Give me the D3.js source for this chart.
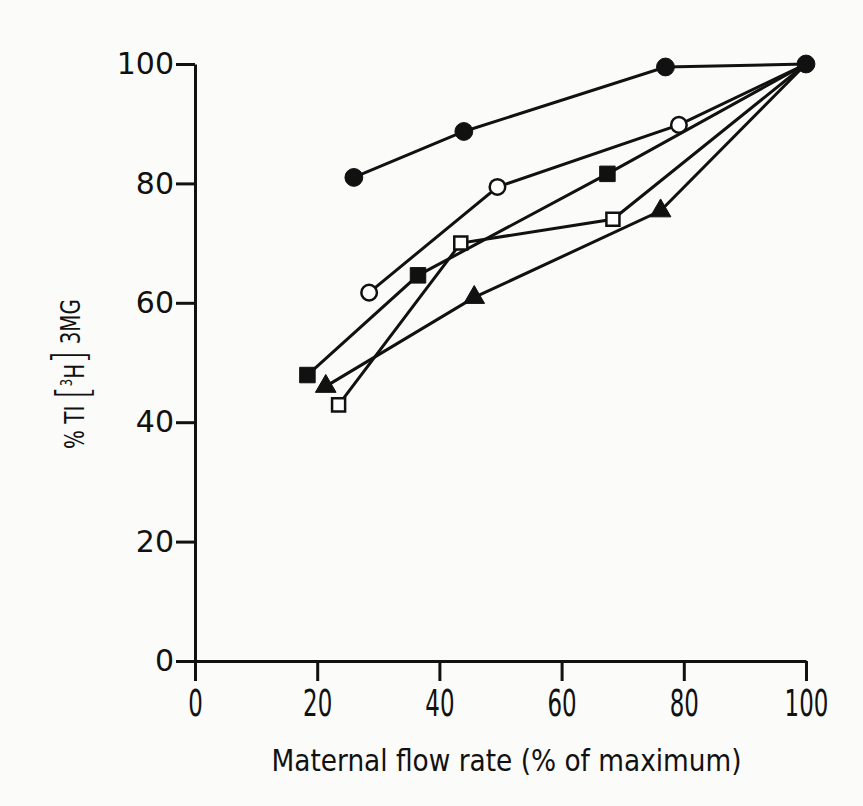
<!DOCTYPE html>
<html>
<head>
<meta charset="utf-8">
<script src="https://cdn.jsdelivr.net/npm/d3@7"></script>
<style>
    body { margin: 0; background: #fbfbfa; }
    svg { display: block; }
</style>
</head>
<body>
<div id="chart"></div>
<script>
const width = 863;
const height = 806;
const margin = { top: 64, right: 57, bottom: 145, left: 195 };

// 目盛り
const xTicks = [0, 20, 40, 60, 80, 100];
const yTicks = [0, 20, 40, 60, 80, 100];

// 各系列 (x: 母体血流量 %, y: %TI)
const filledCircleX = [26, 44, 77, 100];
const filledCircleY = [81, 88.7, 99.5, 100];

const openCircleX = [28.5, 49.5, 79.2, 100];
const openCircleY = [61.7, 79.4, 89.8, 100];

const filledSquareX = [18.4, 36.5, 67.5, 100];
const filledSquareY = [47.9, 64.6, 81.6, 100];

const openSquareX = [23.5, 43.5, 68.4, 100];
const openSquareY = [42.9, 70.0, 74.0, 100];

const triangleX = [21.4, 45.7, 76.2, 100];
const triangleY = [46.0, 60.9, 75.4, 100];

// 描画順: 黒丸を最後に
const series = [
    { name: "openCircle", xs: openCircleX, ys: openCircleY, shape: "circle", filled: false },
    { name: "filledSquare", xs: filledSquareX, ys: filledSquareY, shape: "square", filled: true },
    { name: "openSquare", xs: openSquareX, ys: openSquareY, shape: "square", filled: false },
    { name: "triangle", xs: triangleX, ys: triangleY, shape: "triangle", filled: true },
    { name: "filledCircle", xs: filledCircleX, ys: filledCircleY, shape: "circle", filled: true }
];

const svg = d3.select("#chart")
    .append("svg")
    .attr("width", width)
    .attr("height", height);

const x = d3.scaleLinear()
    .domain([0, 100])
    .range([margin.left, width - margin.right]);

const y = d3.scaleLinear()
    .domain([0, 100])
    .range([height - margin.bottom, margin.top]);

// 軸
const xAxis = svg.append("g")
    .attr("transform", `translate(0,${y(0)})`)
    .call(d3.axisBottom(x).tickValues(xTicks).tickSize(20).tickSizeOuter(0).tickPadding(9));

xAxis.selectAll("text")
    .attr("font-family", "DejaVu Sans, sans-serif")
    .attr("font-size", 37)
    .attr("fill", "#111")
    .attr("transform", "scale(0.62,1)");

const yAxis = svg.append("g")
    .attr("transform", `translate(${x(0)},0)`)
    .call(d3.axisLeft(y).tickValues(yTicks).tickSize(19).tickSizeOuter(0).tickPadding(2));

yAxis.selectAll("text")
    .attr("font-family", "DejaVu Sans, sans-serif")
    .attr("font-size", 30)
    .attr("fill", "#111");

svg.selectAll(".domain, .tick line")
    .attr("stroke", "#111")
    .attr("stroke-width", 3);

// 軸ラベル
svg.append("text")
    .attr("x", (x(0) + x(100)) / 2 + 6)
    .attr("y", 771)
    .attr("text-anchor", "middle")
    .attr("font-family", "DejaVu Sans, sans-serif")
    .attr("font-size", 31)
    .attr("fill", "#111")
    .attr("textLength", 470)
    .attr("lengthAdjust", "spacingAndGlyphs")
    .text("Maternal flow rate (% of maximum)");

const yLabel = svg.append("text")
    .attr("transform", "translate(84,374) rotate(-90)")
    .attr("text-anchor", "middle")
    .attr("font-family", "DejaVu Sans, sans-serif")
    .attr("font-size", 26)
    .attr("fill", "#111")
    .attr("textLength", 150)
    .attr("lengthAdjust", "spacingAndGlyphs");

yLabel.append("tspan").text("% TI ");
yLabel.append("tspan").attr("font-size", 44).attr("font-weight", 300).attr("dy", 4).text("[");
yLabel.append("tspan").attr("font-size", 15).attr("dy", -16).text("3");
yLabel.append("tspan").attr("dy", 12).text("H");
yLabel.append("tspan").attr("font-size", 44).attr("font-weight", 300).attr("dy", 0).text("]");
yLabel.append("tspan").attr("dy", -4).text(" 3MG");

// 折れ線
const line = d3.line()
    .x(d => x(d[0]))
    .y(d => y(d[1]));

series.forEach(function (s) {
    const points = s.xs.map((v, i) => [v, s.ys[i]]);
    svg.append("path")
        .datum(points)
        .attr("fill", "none")
        .attr("stroke", "#111")
        .attr("stroke-width", 3)
        .attr("d", line);
});

// マーカー (共通の終点 100,100 は黒丸だけで描く)
const symbolTypes = {
    circle: d3.symbolCircle,
    square: d3.symbolSquare,
    triangle: d3.symbolTriangle
};

series.forEach(function (s) {
    let points = s.xs.map((v, i) => [v, s.ys[i]]);
    if (s.name !== "filledCircle") {
        points = points.filter(d => !(d[0] === 100 && d[1] === 100));
    }
    let size = 150;
    if (s.shape === "circle") {
        size = s.filled ? 250 : 190;
    } else if (s.shape === "square") {
        size = s.filled ? 240 : 170;
    } else {
        size = 185;
    }
    svg.append("g")
        .selectAll("path")
        .data(points)
        .join("path")
        .attr("transform", d => `translate(${x(d[0])},${y(d[1])})`)
        .attr("d", d3.symbol().type(symbolTypes[s.shape]).size(size))
        .attr("fill", s.filled ? "#111" : "#fff")
        .attr("stroke", "#111")
        .attr("stroke-width", s.filled ? 1 : 2.5);
});
</script>
</body>
</html>
